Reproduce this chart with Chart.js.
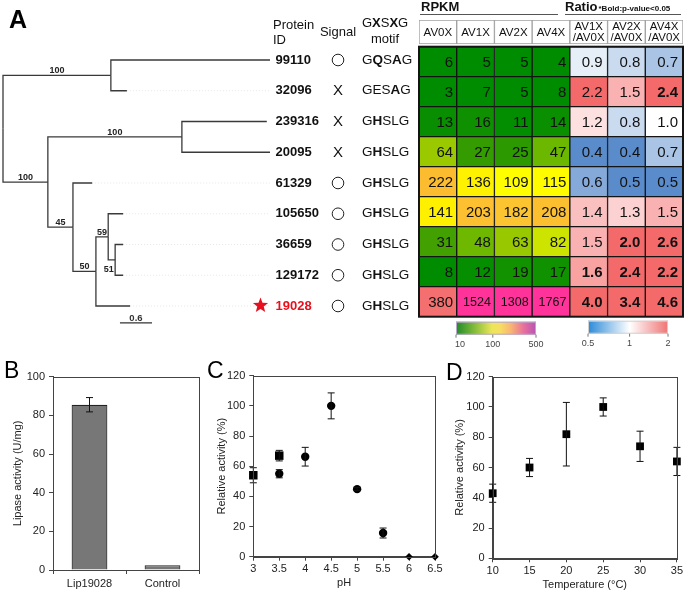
<!DOCTYPE html>
<html lang="en">
<head>
<meta charset="UTF-8">
<title>Lip19028 figure</title>
<script src="https://cdn.jsdelivr.net/npm/chart.js@4.4.2/dist/chart.umd.min.js"></script>
<style>
  body { margin: 0; background: #fff; }
  #fig { position: relative; width: 685px; height: 592px; overflow: hidden; }
  #fig canvas { position: absolute; }
</style>
</head>
<body>
<div id="fig">
  <canvas id="treeChart" width="418" height="335" style="left:0;top:0"></canvas>
  <canvas id="heatChart" width="275" height="360" style="left:410px;top:0"></canvas>
  <canvas id="barChart" width="210" height="262" style="left:0;top:330px"></canvas>
  <canvas id="phChart" width="245" height="262" style="left:200px;top:330px"></canvas>
  <canvas id="tempChart" width="245" height="262" style="left:440px;top:330px"></canvas>
</div>
<script>
// ---- data: panel A (tree + table) ----
const leafIds = ['99110', '32096', '239316', '20095', '61329', '105650', '36659', '129172', '19028'];
const signalMarks = ['O', 'X', 'X', 'X', 'O', 'O', 'O', 'O', 'O'];
const motifs = ['GQSAG', 'GESAG', 'GHSLG', 'GHSLG', 'GHSLG', 'GHSLG', 'GHSLG', 'GHSLG', 'GHSLG'];
const motifBold = [[1, 3], [3], [1], [1], [1], [1], [1], [1], [1]];

const nodeNames   = ['root', 'c1', '99110', '32096', 'c2', 'c3', '239316', '20095', 'c4', '61329', 'c5', 'c6', '105650', 'c7', '36659', '129172', '19028'];
const nodeParents = [null, 'root', 'c1', 'c1', 'root', 'c2', 'c3', 'c3', 'c2', 'c4', 'c4', 'c5', 'c6', 'c6', 'c7', 'c7', 'c5'];
const nodeDepths  = [0, 2.02, 5.0, 2.32, 0.84, 3.35, 4.94, 5.0, 1.31, 1.67, 1.74, 1.97, 2.25, 2.10, 2.25, 2.25, 2.38];
const supportNodes  = ['c1', 'c2', 'c3', 'c4', 'c5', 'c6', 'c7'];
const supportValues = [100, 100, 100, 45, 50, 59, 51];
const scaleBarLength = 0.6;

const rpkmCols  = ['AV0X', 'AV1X', 'AV2X', 'AV4X'];
const ratioCols = ['AV1X/AV0X', 'AV2X/AV0X', 'AV4X/AV0X'];
const rpkmRows = [
  [6, 5, 5, 4], [3, 7, 5, 8], [13, 16, 11, 14], [64, 27, 25, 47], [222, 136, 109, 115],
  [141, 203, 182, 208], [31, 48, 63, 82], [8, 12, 19, 17], [380, 1524, 1308, 1767]
];
const ratioRows = [
  [0.9, 0.8, 0.7], [2.2, 1.5, 2.4], [1.2, 0.8, 1.0], [0.4, 0.4, 0.7], [0.6, 0.5, 0.5],
  [1.4, 1.3, 1.5], [1.5, 2.0, 2.6], [1.6, 2.4, 2.2], [4.0, 3.4, 4.6]
];
const ratioBold = [
  [0, 0, 0], [0, 0, 1], [0, 0, 0], [0, 0, 0], [0, 0, 0],
  [0, 0, 0], [0, 1, 1], [1, 1, 1], [1, 1, 1]
];

// ---- data: panel B ----
const bCats = ['Lip19028', 'Control'];
const bVals = [85.5, 2.5];
const bErrs = [3.7, 0];

// ---- data: panel C (pH) ----
const phSquareX = [3, 3.5];
const phSquareY = [54, 67];
const phSquareErr = [5, 3.5];
const phCircleX = [3.5, 4, 4.5, 5, 5.5];
const phCircleY = [55, 66.3, 100, 44.8, 15.7];
const phCircleErr = [2.7, 6.2, 8.6, 1, 3.3];
const phDiamondX = [6, 6.5];
const phDiamondY = [0, 0];

// ---- data: panel D (temperature) ----
const tempX = [10, 15, 20, 25, 30, 35];
const tempY = [43, 60, 82, 100, 74, 64];
const tempErr = [6, 6, 21, 6, 10, 9.3];

const FONT = "'Liberation Sans', Arial, Helvetica, sans-serif";
Chart.defaults.font.family = FONT;
Chart.defaults.color = '#222';

// colour scales
const rpkmStops = [[1.0, '#008c00'], [1.3, '#149200'], [1.45, '#389c00'], [1.68, '#6eb800'], [1.8, '#98c800'],
  [1.92, '#d0e400'], [2.04, '#ffff00'], [2.15, '#fff000'], [2.26, '#fcc430'], [2.35, '#fcbc30'],
  [2.58, '#f47070'], [2.9, '#ff3399']];

function hexToRgb(h) { const n = parseInt(h.slice(1), 16); return [n >> 16 & 255, n >> 8 & 255, n & 255]; }
function mix(a, b, t) {
  const A = hexToRgb(a), B = hexToRgb(b);
  return 'rgb(' + A.map((v, i) => Math.round(v + (B[i] - v) * t)).join(',') + ')';
}
function rpkmColor(v) {
  const lv = Math.log10(v);
  if (lv <= rpkmStops[0][0]) return rpkmStops[0][1];
  for (let i = 1; i < rpkmStops.length; i++) {
    if (lv <= rpkmStops[i][0]) {
      const [a, ca] = rpkmStops[i - 1], [b, cb] = rpkmStops[i];
      return mix(ca, cb, (lv - a) / (b - a));
    }
  }
  return rpkmStops[rpkmStops.length - 1][1];
}
function ratioColor(v) {
  const t = Math.max(-1, Math.min(1, Math.log2(v)));
  if (t < 0) return mix('#ffffff', '#5a8ccc', -t);
  return mix('#ffffff', '#f46a6a', Math.pow(t, 1.2));
}

// ---- tree ----
function nodeY(name) {
  const li = leafIds.indexOf(name);
  if (li >= 0) return li;
  const kids = nodeNames.filter((n, i) => nodeParents[i] === name).map(nodeY);
  return (Math.min(...kids) + Math.max(...kids)) / 2;
}

const treeSets = [];
nodeNames.forEach((n, i) => {
  const p = nodeParents[i];
  if (!p) return;
  const pi = nodeNames.indexOf(p);
  const px = nodeDepths[pi], py = nodeY(p), y = nodeY(n);
  treeSets.push({ data: [{ x: px, y: py }, { x: px, y: y }, { x: nodeDepths[i], y: y }],
    borderColor: '#3a3a3a', borderWidth: 1.3 });
});
leafIds.forEach((id, r) => {
  const d = nodeDepths[nodeNames.indexOf(id)];
  if (d < 4.9) treeSets.push({ data: [{ x: d, y: r }, { x: 5, y: r }], borderColor: '#e6e6e6', borderWidth: 1, borderDash: [1, 2] });
});
treeSets.push({ data: [{ x: 2.19, y: 8.55 }, { x: 2.19 + scaleBarLength, y: 8.55 }], borderColor: '#333', borderWidth: 1.3 });
treeSets.forEach(ds => { ds.showLine = true; ds.pointRadius = 0; ds.clip = false; ds.tension = 0; });

function drawStar(ctx, cx, cy, R, r) {
  ctx.beginPath();
  for (let k = 0; k < 10; k++) {
    const a = -Math.PI / 2 + k * Math.PI / 5, rad = k % 2 ? r : R;
    ctx.lineTo(cx + rad * Math.cos(a), cy + rad * Math.sin(a));
  }
  ctx.closePath();
  ctx.fill();
}
function drawMotif(ctx, text, bold, x, y, size) {
  let cx = x;
  for (let k = 0; k < text.length; k++) {
    ctx.font = (bold.includes(k) ? 'bold ' : '') + size + 'px ' + FONT;
    ctx.fillText(text[k], cx, y);
    cx += ctx.measureText(text[k]).width;
  }
}

const treeLabels = {
  id: 'treeLabels',
  afterDatasetsDraw(chart) {
    const { ctx, chartArea } = chart;
    const xs = chart.scales.x, ys = chart.scales.y;
    ctx.save();
    ctx.fillStyle = '#000';
    ctx.font = 'bold 25px ' + FONT;
    ctx.textAlign = 'left';
    ctx.textBaseline = 'alphabetic';
    ctx.fillText('A', 9, 28);

    // bootstrap values
    ctx.font = 'bold 9px ' + FONT;
    ctx.fillStyle = '#222';
    ctx.textAlign = 'center';
    supportNodes.forEach((n, k) => {
      const i = nodeNames.indexOf(n), pi = nodeNames.indexOf(nodeParents[i]);
      const cx = (xs.getPixelForValue(nodeDepths[i]) + xs.getPixelForValue(nodeDepths[pi])) / 2;
      const cy = ys.getPixelForValue(nodeY(n));
      if (n === 'c7') ctx.fillText(String(supportValues[k]), cx - 3, cy + 12);
      else ctx.fillText(String(supportValues[k]), cx, cy - 2);
    });
    // scale bar label
    ctx.font = 'bold 9.5px ' + FONT;
    ctx.fillStyle = '#333';
    ctx.fillText(String(scaleBarLength), (xs.getPixelForValue(2.19) + xs.getPixelForValue(2.19 + scaleBarLength)) / 2, ys.getPixelForValue(8.55) - 2);

    // column headers
    const idX = chartArea.right + 3, sigX = chartArea.right + 68, motifX = chartArea.right + 92;
    ctx.fillStyle = '#111';
    ctx.textBaseline = 'middle';
    ctx.font = '13px ' + FONT;
    ctx.textAlign = 'left';
    ctx.fillText('Protein', idX, 25);
    ctx.fillText('ID', idX, 40);
    ctx.textAlign = 'center';
    ctx.fillText('Signal', sigX, 32);
    ctx.fillText('motif', motifX + 23, 39);
    ctx.textAlign = 'left';
    drawMotif(ctx, 'GXSXG', [1, 3], motifX, 23, 13);

    // rows
    leafIds.forEach((id, r) => {
      const y = ys.getPixelForValue(r);
      const red = id === '19028';
      ctx.fillStyle = red ? '#e8101c' : '#111';
      ctx.font = 'bold 13px ' + FONT;
      ctx.textAlign = 'left';
      ctx.fillText(id, idX + 2.5, y);
      if (red) drawStar(ctx, idX - 12.5, y - 0.5, 8, 3.4);
      ctx.fillStyle = '#111';
      if (signalMarks[r] === 'O') {
        ctx.beginPath();
        ctx.arc(sigX, y, 5.8, 0, Math.PI * 2);
        ctx.strokeStyle = '#222';
        ctx.lineWidth = 1;
        ctx.stroke();
      } else {
        ctx.font = '15px ' + FONT;
        ctx.textAlign = 'center';
        ctx.fillText('X', sigX, y + 0.5);
      }
      ctx.textAlign = 'left';
      drawMotif(ctx, motifs[r], motifBold[r], motifX, y, 13.5);
    });
    ctx.restore();
  }
};

new Chart(document.getElementById('treeChart'), {
  type: 'scatter',
  data: { datasets: treeSets },
  options: {
    responsive: false, animation: false, devicePixelRatio: 1,
    layout: { padding: { left: 3, right: 148, top: 60, bottom: 29 } },
    plugins: { legend: { display: false }, tooltip: { enabled: false } },
    scales: {
      x: { type: 'linear', min: 0, max: 5, display: false },
      y: { type: 'linear', min: 0, max: 8, reverse: true, display: false }
    }
  },
  plugins: [treeLabels]
});

// ---- heat table ----
const heatLabels = rpkmCols.concat(ratioCols);
const heatSets = [{
  data: heatLabels.map(() => [-0.89, -0.09]),
  backgroundColor: '#fff', borderColor: '#a0a0a0', borderWidth: 1
}];
rpkmRows.forEach((row, r) => {
  heatSets.push({
    data: heatLabels.map(() => [r, r + 1]),
    backgroundColor: row.map(rpkmColor).concat(ratioRows[r].map(ratioColor)),
    borderColor: '#141414', borderWidth: 1
  });
});

const heatText = {
  id: 'heatText',
  afterDatasetsDraw(chart) {
    const ctx = chart.ctx;
    ctx.save();
    ctx.textBaseline = 'middle';
    chart.data.datasets.forEach((ds, di) => {
      chart.getDatasetMeta(di).data.forEach((el, ci) => {
        const { x, y, base, width } = el.getProps(['x', 'y', 'base', 'width'], true);
        const right = x + width / 2, cy = (y + base) / 2;
        ctx.fillStyle = '#111';
        if (di === 0) {
          ctx.font = '11.5px ' + FONT;
          ctx.textAlign = 'center';
          const lbl = heatLabels[ci];
          const cut = lbl.indexOf('/');
          if (cut < 0) ctx.fillText(lbl, x, cy + 0.5);
          else {
            ctx.fillText(lbl.slice(0, cut), x, cy - 5.5);
            ctx.fillText(lbl.slice(cut), x, cy + 6);
          }
          return;
        }
        const r = di - 1;
        ctx.textAlign = 'right';
        if (ci < 4) {
          const v = rpkmRows[r][ci];
          ctx.font = (v >= 1000 ? '12.5px ' : '15px ') + FONT;
          ctx.fillText(String(v), right - 3.5, cy + 1);
        } else {
          const k = ci - 4;
          ctx.font = (ratioBold[r][k] ? 'bold ' : '') + '15px ' + FONT;
          ctx.fillText(ratioRows[r][k].toFixed(1), right - 5, cy + 1);
        }
      });
    });
    // outer frame of the body
    const ys = chart.scales.y, ca = chart.chartArea;
    ctx.strokeStyle = '#141414';
    ctx.lineWidth = 2;
    ctx.strokeRect(ca.left, ys.getPixelForValue(0), ca.right - ca.left, ys.getPixelForValue(9) - ys.getPixelForValue(0));

    // group titles
    ctx.textAlign = 'left';
    ctx.textBaseline = 'alphabetic';
    ctx.fillStyle = '#111';
    ctx.font = 'bold 13px ' + FONT;
    ctx.fillText('RPKM', ca.left + 2, 11);
    ctx.fillText('Ratio', ca.left + 146, 11);
    const rw = ctx.measureText('Ratio').width;
    ctx.font = 'bold 8px ' + FONT;
    ctx.fillText('*Bold:p-value<0.05', ca.left + 147 + rw, 11);
    ctx.strokeStyle = '#555';
    ctx.lineWidth = 1;
    ctx.beginPath();
    ctx.moveTo(ca.left + 1, 14.5); ctx.lineTo(ca.left + 139, 14.5);
    ctx.moveTo(ca.left + 146, 14.5); ctx.lineTo(ca.right - 2, 14.5);
    ctx.stroke();

    // colour keys
    const bottom = ys.getPixelForValue(9);
    const gx = ca.left + 37, rx = ca.left + 169, w = 80;
    let g = ctx.createLinearGradient(gx, 0, gx + w, 0);
    [[0, '#1f8a2a'], [0.25, '#8cc03c'], [0.45, '#ece65a'], [0.55, '#f6de62'], [0.68, '#f8b872'], [0.85, '#e86e9e'], [1, '#b655b4']]
      .forEach(s => g.addColorStop(s[0], s[1]));
    ctx.fillStyle = g;
    ctx.fillRect(gx, bottom + 5, w, 13);
    ctx.strokeStyle = '#b8a8c8';
    ctx.strokeRect(gx + 0.5, bottom + 5.5, w - 1, 12);
    g = ctx.createLinearGradient(rx, 0, rx + w, 0);
    [[0, '#2b8ad8'], [0.52, '#ffffff'], [1, '#f07474']].forEach(s => g.addColorStop(s[0], s[1]));
    ctx.fillStyle = g;
    ctx.fillRect(rx, bottom + 4, w, 13);
    ctx.strokeStyle = '#d0d0d0';
    ctx.strokeRect(rx + 0.5, bottom + 4.5, w - 1, 12);

    ctx.strokeStyle = '#777';
    ctx.fillStyle = '#444';
    ctx.font = '9px ' + FONT;
    ctx.textAlign = 'center';
    ctx.textBaseline = 'middle';
    [['10', 0], ['100', 0.46], ['500', 1]].forEach(([t, f]) => {
      const px = gx + f * w;
      ctx.beginPath(); ctx.moveTo(px, bottom + 18); ctx.lineTo(px, bottom + 21); ctx.stroke();
      ctx.fillText(t, px + (f === 0 ? 4 : 0), bottom + 28);
    });
    [['0.5', 0], ['1', 0.52], ['2', 1]].forEach(([t, f]) => {
      const px = rx + f * w;
      ctx.beginPath(); ctx.moveTo(px, bottom + 17); ctx.lineTo(px, bottom + 20); ctx.stroke();
      ctx.fillText(t, px, bottom + 27);
    });
    ctx.restore();
  }
};

new Chart(document.getElementById('heatChart'), {
  type: 'bar',
  data: { labels: heatLabels, datasets: heatSets },
  options: {
    responsive: false, animation: false, devicePixelRatio: 1,
    layout: { padding: { left: 9, right: 2, top: 20, bottom: 43.3 } },
    datasets: { bar: { grouped: false, barPercentage: 1, categoryPercentage: 1, borderSkipped: false } },
    plugins: { legend: { display: false }, tooltip: { enabled: false } },
    scales: {
      x: { display: false },
      y: { display: false, min: -0.89, max: 9, reverse: true }
    }
  },
  plugins: [heatText]
});

// ---- shared helpers for B, C, D ----
const frame = {
  id: 'frame',
  afterDraw(chart) {
    const { ctx, chartArea: a } = chart;
    ctx.save();
    ctx.strokeStyle = '#444';
    ctx.lineWidth = 1;
    ctx.strokeRect(Math.round(a.left) + 0.5, Math.round(a.top) + 0.5, Math.round(a.right - a.left), Math.round(a.bottom - a.top));
    ctx.restore();
  }
};
const errorBars = {
  id: 'errorBars',
  afterDatasetsDraw(chart) {
    const ctx = chart.ctx, ys = chart.scales.y;
    ctx.save();
    ctx.strokeStyle = '#111';
    ctx.lineWidth = 1;
    chart.data.datasets.forEach((ds, di) => {
      if (!ds.errors) return;
      chart.getDatasetMeta(di).data.forEach((el, i) => {
        const e = ds.errors[i];
        if (!e) return;
        const v = typeof ds.data[i] === 'number' ? ds.data[i] : ds.data[i].y;
        const top = ys.getPixelForValue(v + e), bot = ys.getPixelForValue(v - e), x = el.x;
        ctx.beginPath();
        ctx.moveTo(x, top); ctx.lineTo(x, bot);
        ctx.moveTo(x - 3.5, top); ctx.lineTo(x + 3.5, top);
        ctx.moveTo(x - 3.5, bot); ctx.lineTo(x + 3.5, bot);
        ctx.stroke();
      });
    });
    ctx.restore();
  }
};
function letter(text, x, y) {
  return {
    id: 'letter' + text,
    afterDraw(chart) {
      const ctx = chart.ctx;
      ctx.save();
      ctx.fillStyle = '#000';
      ctx.font = '23px ' + FONT;
      ctx.textAlign = 'left';
      ctx.textBaseline = 'alphabetic';
      ctx.fillText(text, x, y);
      ctx.restore();
    }
  };
}
function axisGrid() {
  return { drawOnChartArea: false, drawTicks: true, tickLength: 4, color: '#444' };
}
const tickFont = { size: 11 };
const titleFont = { size: 11 };
const plainNumber = v => String(Math.round(v * 10) / 10);

// ---- panel B ----
new Chart(document.getElementById('barChart'), {
  type: 'bar',
  data: {
    labels: bCats,
    datasets: [{ data: bVals, errors: bErrs, backgroundColor: '#777777', borderColor: '#222', borderWidth: 1.2,
      barPercentage: 0.49, categoryPercentage: 1 }]
  },
  options: {
    responsive: false, animation: false, devicePixelRatio: 1,
    layout: { padding: { left: 0, right: 11, top: 46.7, bottom: 0 } },
    plugins: { legend: { display: false }, tooltip: { enabled: false } },
    scales: {
      x: { grid: Object.assign(axisGrid(), { offset: true }), border: { color: '#444' },
        ticks: { font: tickFont, color: '#222', padding: 3 },
        afterFit: s => { s.height = 22; } },
      y: { min: 0, max: 100, ticks: { stepSize: 20, font: tickFont, color: '#222', padding: 4 },
        grid: axisGrid(), border: { color: '#444' },
        title: { display: true, text: 'Lipase activity (U/mg)', font: titleFont, color: '#222', padding: { top: 11, bottom: 0 } },
        afterFit: s => { s.width = 53; } }
    }
  },
  plugins: [frame, errorBars, letter('B', 4, 48)]
});

// ---- panel C ----
new Chart(document.getElementById('phChart'), {
  type: 'scatter',
  data: {
    datasets: [
      { data: phSquareX.map((x, i) => ({ x, y: phSquareY[i] })), errors: phSquareErr, pointStyle: 'rect', pointRadius: 6 },
      { data: phCircleX.map((x, i) => ({ x, y: phCircleY[i] })), errors: phCircleErr, pointStyle: 'circle', pointRadius: 4.2 },
      { data: phDiamondX.map((x, i) => ({ x, y: phDiamondY[i] })), pointStyle: 'rectRot', pointRadius: 3.8 }
    ].map(d => Object.assign(d, { backgroundColor: '#000', borderColor: '#000', borderWidth: 0, clip: false }))
  },
  options: {
    responsive: false, animation: false, devicePixelRatio: 1,
    layout: { padding: { left: 0, right: 10, top: 45.7, bottom: 0 } },
    plugins: { legend: { display: false }, tooltip: { enabled: false } },
    scales: {
      x: { type: 'linear', min: 3, max: 6.5,
        ticks: { stepSize: 0.5, font: tickFont, color: '#222', padding: 2, callback: plainNumber },
        grid: axisGrid(), border: { color: '#444' },
        title: { display: true, text: 'pH', font: titleFont, color: '#222', padding: { top: 0, bottom: 2 } },
        afterFit: s => { s.height = 35.3; } },
      y: { min: 0, max: 120, ticks: { stepSize: 20, font: tickFont, color: '#222', padding: 4 },
        grid: axisGrid(), border: { color: '#444' },
        title: { display: true, text: 'Relative activity (%)', font: titleFont, color: '#222', padding: { top: 15, bottom: 0 } },
        afterFit: s => { s.width = 53.3; } }
    }
  },
  plugins: [frame, errorBars, letter('C', 7, 48)]
});

// ---- panel D ----
new Chart(document.getElementById('tempChart'), {
  type: 'scatter',
  data: {
    datasets: [
      { data: tempX.map((x, i) => ({ x, y: tempY[i] })), errors: tempErr, pointStyle: 'rect', pointRadius: 5.5,
        backgroundColor: '#000', borderColor: '#000', borderWidth: 0, clip: false }
    ]
  },
  options: {
    responsive: false, animation: false, devicePixelRatio: 1,
    layout: { padding: { left: 0, right: 6.7, top: 46.7, bottom: 0 } },
    plugins: { legend: { display: false }, tooltip: { enabled: false } },
    scales: {
      x: { type: 'linear', min: 10, max: 35, ticks: { stepSize: 5, font: tickFont, color: '#222', padding: 2 },
        grid: axisGrid(), border: { color: '#444' },
        title: { display: true, text: 'Temperature (°C)', font: titleFont, color: '#222', padding: { top: 0, bottom: 0 } },
        afterFit: s => { s.height = 33.7; } },
      y: { min: 0, max: 120, ticks: { stepSize: 20, font: tickFont, color: '#222', padding: 4 },
        grid: axisGrid(), border: { color: '#444' },
        title: { display: true, text: 'Relative activity (%)', font: titleFont, color: '#222', padding: { top: 13, bottom: 0 } },
        afterFit: s => { s.width = 52.7; } }
    }
  },
  plugins: [frame, errorBars, letter('D', 6, 50)]
});
</script>
</body>
</html>
